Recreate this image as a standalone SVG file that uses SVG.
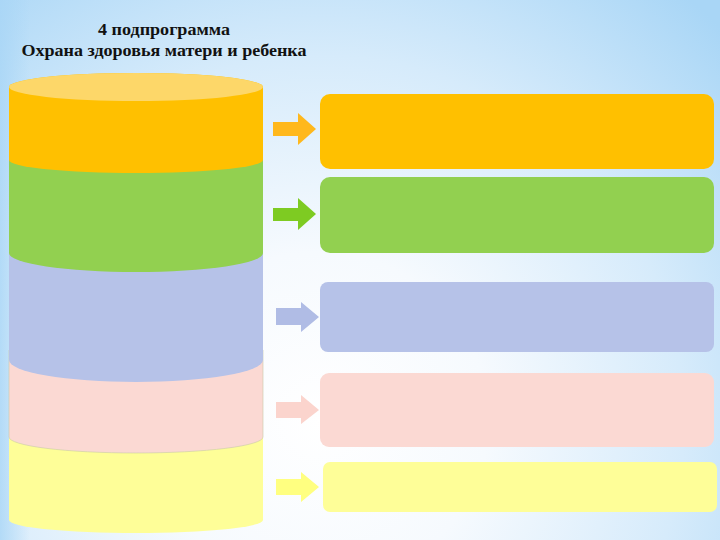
<svg xmlns="http://www.w3.org/2000/svg" width="720" height="540" viewBox="0 0 720 540">
  <defs>
    <radialGradient id="bg" cx="320" cy="420" r="560" gradientUnits="userSpaceOnUse">
      <stop offset="0" stop-color="#FFFFFF"/>
      <stop offset="0.3" stop-color="#F6FAFE"/>
      <stop offset="0.65" stop-color="#D6EBFB"/>
      <stop offset="1" stop-color="#A9D6F6"/>
    </radialGradient>
    <linearGradient id="edgeL" x1="0" y1="0" x2="1" y2="0">
      <stop offset="0" stop-color="#A9D6F6" stop-opacity="0.8"/>
      <stop offset="1" stop-color="#A9D6F6" stop-opacity="0"/>
    </linearGradient>
  </defs>
  <style>
    .title { font-weight: bold; font-size: 16px; fill: #111; text-anchor: middle; }
    .box { stroke: none; }
  </style>
  <rect x="0" y="0" width="720" height="540" fill="url(#bg)"/>
  <rect x="0" y="0" width="30" height="540" fill="url(#edgeL)"/>

  <g id="title" font-family="'Liberation Serif', 'DejaVu Serif', serif">
    <text class="title" x="164" y="35" textLength="132" lengthAdjust="spacingAndGlyphs">4 подпрограмма</text>
    <text class="title" x="164" y="56" textLength="285" lengthAdjust="spacingAndGlyphs">Охрана здоровья матери и ребенка</text>
  </g>

  <g id="cyl-yellow">
    <path d="M9,430 L263,430 L263,520 A127,13 0 0 1 9,520 Z" fill="#FEFE98"/>
  </g>
  <g id="cyl-pink">
    <path d="M9,350 L263,350 L263,437 A127,16 0 0 1 9,437 Z" fill="#FBD9D3" stroke="#C9CBA8" stroke-width="0.6"/>
  </g>
  <g id="cyl-blue">
    <path d="M9,245 L263,245 L263,360 A127,22 0 0 1 9,360 Z" fill="#B6C2E8"/>
  </g>
  <g id="cyl-green">
    <path d="M9,155 L263,155 L263,253 A127,19 0 0 1 9,253 Z" fill="#92D050"/>
  </g>
  <g id="cyl-orange">
    <path d="M9,87 A127,14 0 0 1 263,87 L263,160 A127,13 0 0 1 9,160 Z" fill="#FFC000"/>
    <ellipse cx="136" cy="87" rx="127" ry="14" fill="#FDD769"/>
  </g>

  <g id="box-orange"><rect class="box" x="320" y="94" width="394" height="75" rx="10" fill="#FFC000"/></g>
  <g id="box-green"><rect class="box" x="320" y="177" width="394" height="76" rx="10" fill="#92D050"/></g>
  <g id="box-blue"><rect class="box" x="320" y="282" width="394" height="70" rx="8" fill="#B6C2E8"/></g>
  <g id="box-pink"><rect class="box" x="320" y="373" width="394" height="74" rx="9" fill="#FBD9D3"/></g>
  <g id="box-yellow"><rect class="box" x="323" y="462" width="394" height="50" rx="7" fill="#FEFE98"/></g>

  <g id="connectors">
    <polygon points="273,122 298,122 298,113 316,129 298,145 298,136 273,136" fill="#FFB81C"/>
    <polygon points="273,208 298,208 298,198 316,214 298,230 298,221 273,221" fill="#7ECB22"/>
    <polygon points="276,308 301,308 301,302 319,317 301,332 301,325 276,325" fill="#B0BCE5"/>
    <polygon points="276,402 301,402 301,395 319,410 301,424 301,418 276,418" fill="#FBD4CD"/>
    <polygon points="276,479 301,479 301,472 319,487 301,502 301,495 276,495" fill="#FFFF80"/>
  </g>
</svg>
